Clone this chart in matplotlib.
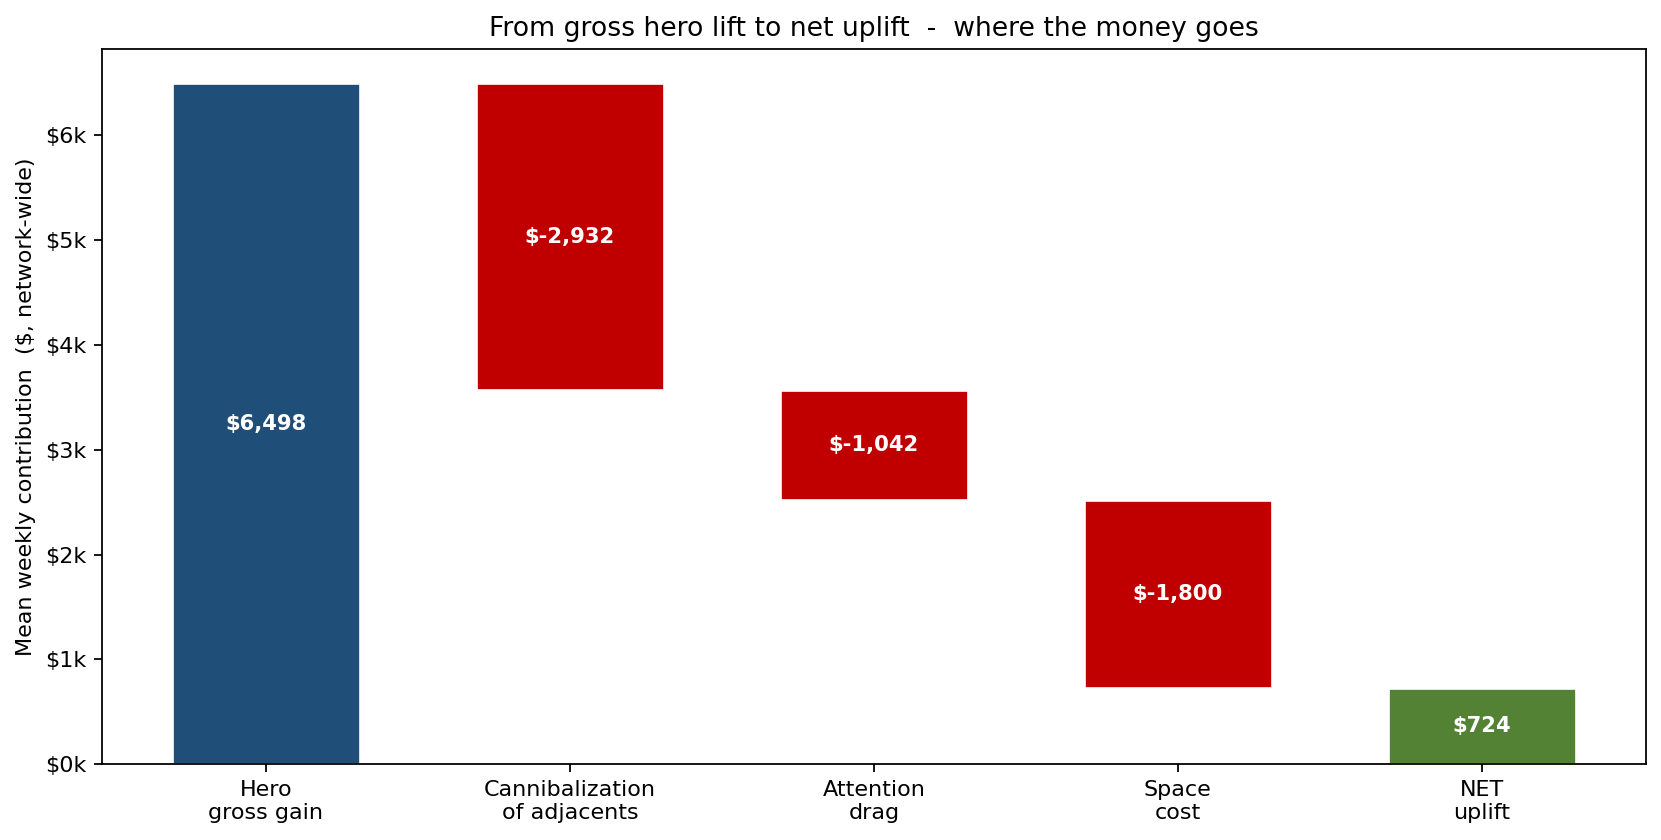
import matplotlib
matplotlib.use("Agg")
import matplotlib.pyplot as plt
from matplotlib.ticker import FuncFormatter

categories = ["Hero\ngross gain", "Cannibalization\nof adjacents", "Attention\ndrag", "Space\ncost", "NET\nuplift"]
values = [6498, -2932, -1042, -1800, 724]
colors = ["#1f4e79", "#c00000", "#c00000", "#c00000", "#548235"]

DPI = 160
fig = plt.figure(figsize=(1661 / DPI, 840 / DPI), dpi=DPI)
ax = fig.add_axes([101.7 / 1661, (840 - 764.3) / 840, (1646 - 101.7) / 1661, (764.3 - 49) / 840])

bottoms = []
heights = []
running = 0
for i, v in enumerate(values):
    if i == 0:
        bottoms.append(0); heights.append(v); running = v
    elif i == len(values) - 1:
        bottoms.append(0); heights.append(v)
    else:
        running += v
        bottoms.append(running); heights.append(-v)

x = list(range(len(values)))
ax.bar(x, heights, bottom=bottoms, width=0.62, color=colors, edgecolor="white", linewidth=1.2)
for xi, b, h, v in zip(x, bottoms, heights, values):
    ax.text(xi, b + h / 2, f"${v:,.0f}", ha="center", va="center", color="white", fontweight="bold", fontsize=9.5)

ax.set_xticks(x)
ax.set_xticklabels(categories)
ax.set_xlim(-0.5 - 0.04, 4.5 + 0.04)
ax.yaxis.set_major_formatter(FuncFormatter(lambda y, p: f"${y/1000:.0f}k"))
ax.set_ylim(0, values[0] * 1.05)
ax.set_ylabel("Mean weekly contribution  ($, network-wide)")
ax.set_title("From gross hero lift to net uplift  -  where the money goes")
fig.savefig("out.png", dpi=DPI)
